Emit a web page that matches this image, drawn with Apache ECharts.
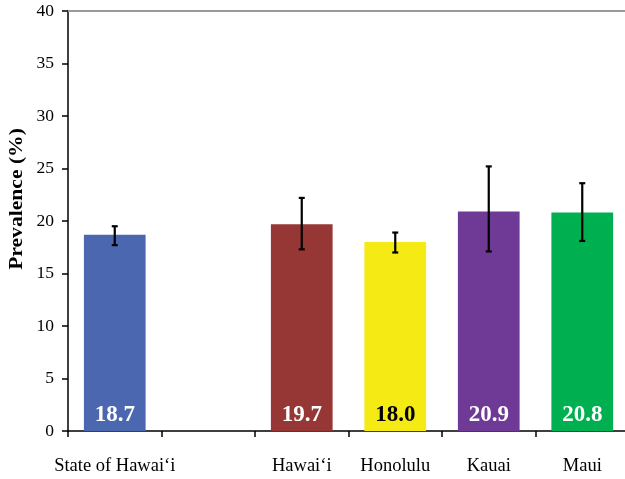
<!DOCTYPE html>
<html>
<head>
<meta charset="utf-8">
<script src="https://cdn.jsdelivr.net/npm/echarts@6/dist/echarts.min.js"></script>
<style>html,body{margin:0;padding:0;background:#fff}#c{width:625px;height:479px}</style>
</head>
<body>
<div id="c"></div>
<script>
const categories = ['State of Hawai\u2018i', '', 'Hawai\u2018i', 'Honolulu', 'Kauai', 'Maui'];
const prevalence = [18.7, null, 19.7, 18.0, 20.9, 20.8];
const ciLower = [17.7, null, 17.3, 17.0, 17.1, 18.1];
const ciUpper = [19.5, null, 22.2, 18.9, 25.2, 23.6];
const yTicks = [0, 5, 10, 15, 20, 25, 30, 35, 40];

const barColors = ['#4A67B0', null, '#973735', '#F5EA14', '#6F3A96', '#00AF4F'];
const labelColors = ['#fff', null, '#fff', '#000', '#fff', '#fff'];
const font = '"Liberation Serif", "Times New Roman", serif';

const chart = echarts.init(document.getElementById('c'), null, {renderer: 'canvas'});
chart.setOption({
  animation: false,
  grid: {left: 68, width: 561, top: 11, height: 420, containLabel: false, outerBoundsMode: 'none'},
  xAxis: [{
    type: 'category', data: categories, position: 'bottom',
    axisLine: {lineStyle: {color: '#000', width: 1.5}},
    axisTick: {show: true, length: 6, lineStyle: {color: '#000', width: 1.5}},
    axisLabel: {color: '#000', fontFamily: font, fontSize: 18.5, margin: 26, interval: 0}
  }, {
    type: 'category', data: categories, position: 'top',
    axisLine: {lineStyle: {color: '#999', width: 2}},
    axisTick: {show: false}, axisLabel: {show: false}
  }],
  yAxis: {
    type: 'value', min: yTicks[0], max: yTicks[yTicks.length - 1], interval: 5,
    axisLine: {show: true, lineStyle: {color: '#000', width: 1.5}},
    axisTick: {show: true, length: 6, inside: false, lineStyle: {color: '#000', width: 1.5}},
    axisLabel: {color: '#000', fontFamily: font, fontSize: 17.5, margin: 14},
    splitLine: {show: false}
  },
  graphic: [{
    type: 'text', x: 17, y: 199, rotation: Math.PI / 2, scaleX: 1.2,
    style: {text: 'Prevalence (%)', font: 'bold 18px ' + font, fill: '#000',
            textAlign: 'center', textVerticalAlign: 'middle'}
  }],
  series: [{
    type: 'bar', barWidth: '66%',
    data: prevalence.map((v, i) => v == null ? null : {
      value: v,
      itemStyle: {color: barColors[i]},
      label: {color: labelColors[i]}
    }),
    label: {
      show: true, position: 'insideBottom', distance: 4,
      fontFamily: font, fontWeight: 'bold', fontSize: 23,
      formatter: p => p.value.toFixed(1)
    }
  }, {
    type: 'custom',
    data: categories.map((c, i) => [i, ciLower[i], ciUpper[i]]).filter(d => d[1] != null),
    renderItem: function (params, api) {
      const lo = api.coord([api.value(0), api.value(1)]);
      const hi = api.coord([api.value(0), api.value(2)]);
      const w = 3;
      const st = {stroke: '#000', lineWidth: 2.2};
      return {type: 'group', children: [
        {type: 'line', shape: {x1: hi[0], y1: hi[1], x2: lo[0], y2: lo[1]}, style: st},
        {type: 'line', shape: {x1: hi[0] - w, y1: hi[1], x2: hi[0] + w, y2: hi[1]}, style: st},
        {type: 'line', shape: {x1: lo[0] - w, y1: lo[1], x2: lo[0] + w, y2: lo[1]}, style: st}
      ]};
    },
    z: 10
  }]
});
</script>
</body>
</html>
